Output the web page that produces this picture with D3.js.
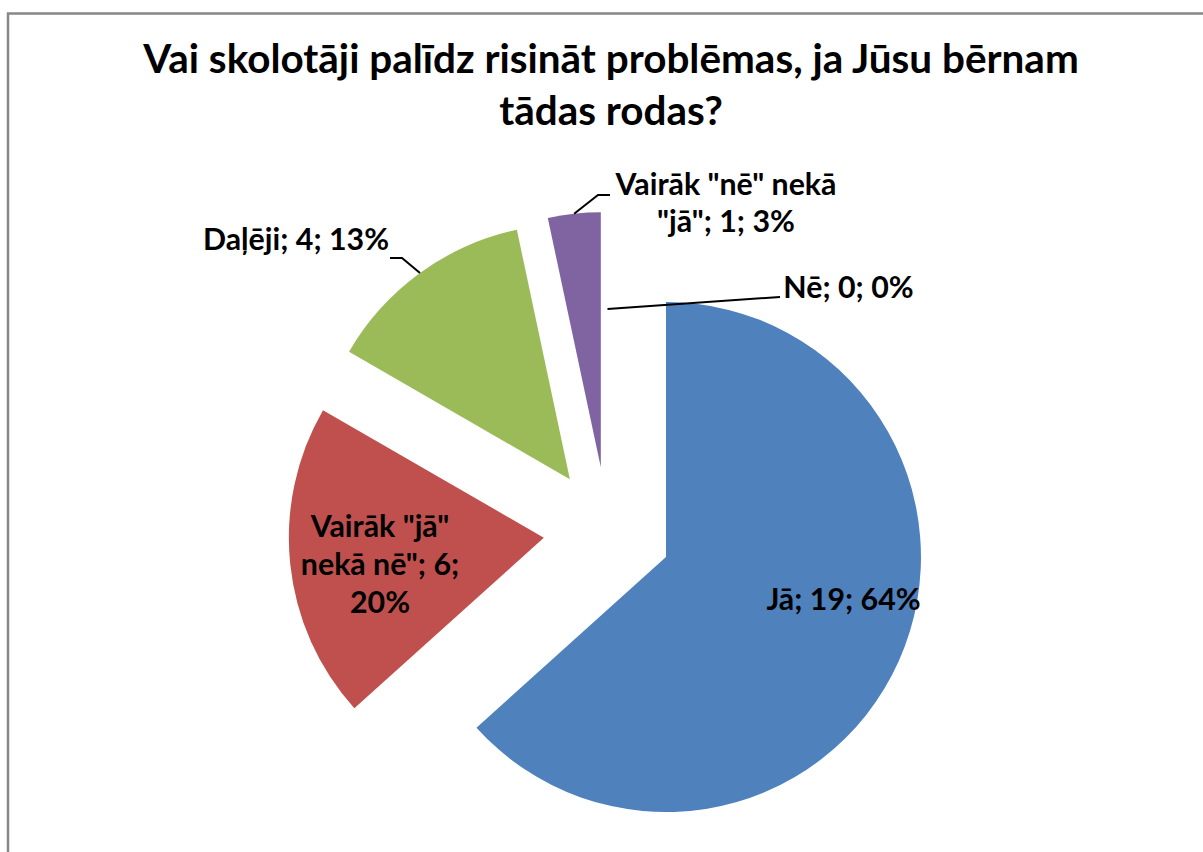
<!DOCTYPE html>
<html>
<head>
<meta charset="utf-8">
<script src="https://cdn.jsdelivr.net/npm/d3@7"></script>
<style>
body { margin: 0; background: #fff; }
text { font-family: Lato, "Open Sans", sans-serif; font-weight: bold; fill: #000; }
</style>
</head>
<body>
<script>
// chart data
var categories = ['Jā', 'Vairāk "jā" nekā nē"', 'Daļēji', 'Vairāk "nē" nekā "jā"', 'Nē'];
var values = [19, 6, 4, 1, 0];
var percentLabels = ['64%', '20%', '13%', '3%', '0%'];
var colors = ['#4F81BD', '#C0504D', '#9BBB59', '#8064A2', '#4BACC6'];
var titleLines = ['Vai skolotāji palīdz risināt problēmas, ja Jūsu bērnam', 'tādas rodas?'];

var w = 1203;
var h = 852;
var cx = 607.5, cy = 531;   // pie centre
var R = 255;                 // radius
var explode = 64;            // every slice pulled out

var svg = d3.select("body").append("svg")
    .attr("width", w)
    .attr("height", h);

// chart frame (runs off the right and bottom)
svg.append("rect")
    .attr("x", 8)
    .attr("y", 13.5)
    .attr("width", 1400)
    .attr("height", 1000)
    .attr("fill", "white")
    .attr("stroke", "#878787")
    .attr("stroke-width", 2.5);

// title, sized so the first line spans the same width as the original
var title = svg.append("g");
var t1 = title.append("text")
    .attr("x", 611).attr("y", 73)
    .attr("text-anchor", "middle")
    .style("font-size", "40px")
    .text(titleLines[0]);
var k = 936 / t1.node().getComputedTextLength();
var titleSize = 40 * k;
t1.style("font-size", titleSize + "px");
title.append("text")
    .attr("x", 611).attr("y", 125)
    .attr("text-anchor", "middle")
    .style("font-size", titleSize + "px")
    .text(titleLines[1]);
var labelSize = titleSize * 0.75;

var pie = d3.pie().sort(null).value(function(d) { return d; });
var arcs = pie(values);
var arc = d3.arc().innerRadius(0).outerRadius(R);

function mid(d) { return (d.startAngle + d.endAngle) / 2; }
function offset(d, r) {
    var a = mid(d);
    return [Math.sin(a) * r, -Math.cos(a) * r];
}

// slices
svg.append("g")
    .attr("transform", "translate(" + cx + "," + cy + ")")
  .selectAll("path")
  .data(arcs)
  .join("path")
    .attr("d", arc)
    .attr("fill", function(d, i) { return colors[i]; })
    .attr("transform", function(d) {
        var o = offset(d, explode);
        return "translate(" + o[0] + "," + o[1] + ")";
    });

// label layout: text lines, centre x, first baseline, line step, leader
var labelLayout = [
    { lines: [0], x: 843.5, y: 610, step: 0 },
    { lines: [1], x: 380, y: 537, step: 38 },
    { lines: [0], x: 296, y: 250, step: 0, leader: [[390, 258], [402, 258]], reach: 1 },
    { lines: [1], x: 726, y: 195, step: 37, leader: [[610, 195], [598, 195]], reach: 1 },
    { lines: [0], x: 848.5, y: 298, step: 0, leader: [[780, 297]], reach: 0.62 }
];

function labelText(i) {
    var full = categories[i] + '; ' + values[i] + '; ' + percentLabels[i];
    if (i === 1) return ['Vairāk "jā"', 'nekā nē"; ' + values[i] + ';', percentLabels[i]];
    if (i === 3) return ['Vairāk "nē" nekā', '"jā"; ' + values[i] + '; ' + percentLabels[i]];
    return [full];
}

arcs.forEach(function(d, i) {
    var L = labelLayout[i];
    var lines = labelText(i);
    lines.forEach(function(s, j) {
        svg.append("text")
            .attr("x", L.x)
            .attr("y", L.y + j * L.step)
            .attr("text-anchor", "middle")
            .style("font-size", labelSize + "px")
            .text(s);
    });
    if (L.leader) {
        var o = offset(d, explode);
        var e = offset(d, R * L.reach);
        var pts = L.leader.concat([[cx + o[0] + e[0], cy + o[1] + e[1]]]);
        svg.append("path")
            .attr("d", d3.line()(pts))
            .attr("fill", "none")
            .attr("stroke", "black")
            .attr("stroke-width", 2);
    }
});
</script>
</body>
</html>
